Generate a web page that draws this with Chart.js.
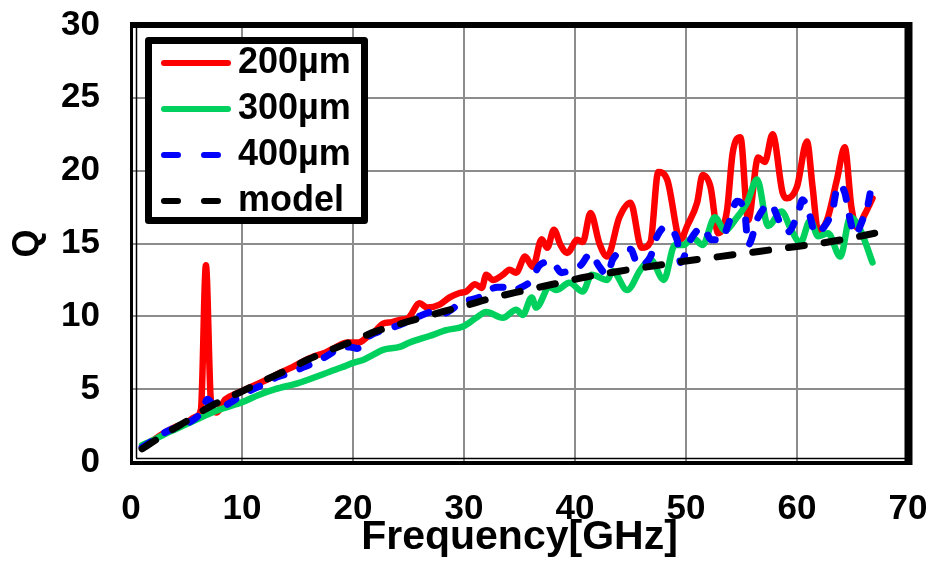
<!DOCTYPE html>
<html>
<head>
<meta charset="utf-8">
<script src="https://cdn.jsdelivr.net/npm/chart.js@4/dist/chart.umd.min.js"></script>
<style>
  html, body { margin: 0; padding: 0; background: #fff; }
  #qChart { display: block; }
</style>
</head>
<body>
<canvas id="qChart" width="935" height="563"></canvas>
<script>
// 200um
const freq200 = [
  1, 2, 3, 4, 5, 5.8, 6.3, 6.75, 7.2, 7.7,
  8.5, 9.5, 10.5, 11.5, 12.5, 13.5, 14.5, 15.5, 16.5, 17.5,
  18.5, 19.5, 20.5, 21.3, 22, 22.7, 23.5, 24.2, 25, 26,
  26.7, 27.8, 28.7, 29.6, 30.2, 31, 31.6, 32, 32.6, 33.5,
  34.1, 34.7, 35.5, 36.2, 37, 37.5, 38.1, 38.7, 39.3, 40.2,
  40.7, 41.4, 42.2, 42.9, 44, 45, 46, 46.8, 47.5, 48.3,
  49.5, 50.1, 51, 51.5, 52.2, 52.9, 53.7, 54.2, 54.9, 55.6,
  56.5, 57.1, 57.8, 58.7, 59.1, 60, 60.9, 61.4, 61.9, 62.7,
  63.6, 64.3, 64.9, 65.4, 66.1, 66.8
];
const q200 = [
  1.0, 1.5, 2.0, 2.4, 2.7, 3.1, 3.6, 13.5, 4.2, 3.4,
  4.3, 4.7, 5.05, 5.4, 5.75, 6.15, 6.5, 6.9, 7.25, 7.5,
  7.9, 8.2, 8.2, 8.6, 9.0, 9.5, 9.6, 9.75, 9.9, 10.9,
  10.6, 10.8, 11.3, 11.6, 11.7, 12.2, 11.95, 12.85, 12.5, 12.85,
  13.2, 13.0, 14.1, 13.4, 15.3, 14.7, 15.95, 14.9, 14.35, 15.25,
  15.1, 17.1, 15.0, 14.1, 16.8, 17.8, 14.7, 15.1, 19.9, 19.4,
  15.25, 16.2, 17.8, 19.7, 18.9, 15.7, 17.3, 21.2, 22.3, 16.6,
  20.9, 20.6, 22.5, 18.5, 18.1, 18.9, 22.0, 18.9, 15.9, 16.6,
  19.4, 21.6, 17.5, 16.1, 17.0, 18.1
];

// 300um
const freq300 = [
  1, 2, 3, 4, 5, 6, 7, 8, 9, 10,
  11.5, 13, 15, 16.5, 17.9, 19, 20, 20.9, 21.8, 22.7,
  24.2, 25.1, 26.9, 28.4, 29.9, 31.1, 32, 33.5, 34.7, 35.3,
  36.1, 36.5, 37.7, 38.3, 39.5, 40.7, 41.5, 42.9, 43.4, 44.7,
  45.9, 46.8, 48, 49, 49.8, 50.6, 51.5, 52.6, 53.5, 54.6,
  55.5, 56.4, 57.4, 58.6, 59.5, 60.3, 61.2, 61.9, 62.8, 63.9,
  64.8, 65.7, 66.8
];
const q300 = [
  1.15, 1.5, 1.9, 2.25, 2.6, 2.95, 3.3, 3.6, 3.85, 4.1,
  4.6, 5.0, 5.4, 5.8, 6.2, 6.5, 6.8, 7.0, 7.35, 7.7,
  7.9, 8.2, 8.65, 9.05, 9.3, 9.9, 10.3, 9.9, 10.45, 10.1,
  11.3, 10.6, 12.0, 11.8, 12.3, 11.7, 12.85, 12.5, 13.1, 11.8,
  13.2, 13.9, 12.5, 14.9, 14.9, 15.4, 14.9, 16.8, 15.9, 16.8,
  17.8, 19.4, 16.2, 17.2, 15.9, 15.05, 16.6, 15.5, 15.7, 14.1,
  16.8, 15.95, 13.7
];

// 400um
const freq400 = [
  1, 2, 3, 4, 5, 5.8, 6.4, 6.9, 7.4, 7.9,
  9, 10, 11, 12, 13.2, 14.3, 15.5, 16.8, 17.9, 19,
  19.7, 20.4, 20.9, 21.4, 22.7, 24.2, 25.8, 27.2, 28.1, 29.9,
  31.2, 33, 34.1, 34.4, 35.2, 36.1, 36.8, 37.9, 38.8, 39.6,
  40.5, 41.4, 42.2, 42.9, 43.4, 45, 45.7, 46.8, 47.4, 48.1,
  49.2, 49.5, 50.4, 51.5, 52.3, 53.2, 53.8, 54.6, 55.3, 55.6,
  56.5, 57.6, 58.5, 59.2, 60.1, 60.5, 61.2, 61.6, 62.5, 63.2,
  63.7, 64.3, 64.8, 65.2, 65.9, 66.4, 66.8
];
const q400 = [
  1.0, 1.5, 2.0, 2.35, 2.65, 3.0, 3.5, 4.3, 3.9, 3.7,
  4.1, 4.6, 5.0, 5.35, 5.85, 6.1, 6.5, 6.9, 7.4, 7.9,
  7.9, 7.8, 8.2, 8.6, 9.05, 9.4, 9.95, 10.3, 10.2, 11.0,
  11.25, 12.0, 12.0, 11.8, 12.0, 12.5, 13.5, 13.75, 13.0, 13.2,
  13.5, 14.3, 13.4, 12.85, 13.9, 14.6, 13.5, 14.1, 15.5, 16.1,
  15.25, 13.7, 15.25, 16.1, 15.25, 15.25, 16.3, 17.9, 17.1, 14.9,
  16.8, 17.7, 16.4, 15.8, 17.1, 18.0, 16.8, 15.7, 16.2, 17.3,
  19.0, 18.5, 16.6, 15.6, 16.6, 17.7, 19.4
];

// model
const freqModel = [
  1, 2, 3, 4, 5, 6, 7, 8, 9, 10,
  12, 14, 16, 18, 20, 22, 25, 28, 30, 32,
  35, 38, 41, 44, 47, 50, 53, 56, 59, 62,
  65, 67
];
const qModel = [
  0.9, 1.4, 1.9, 2.35, 2.8, 3.3, 3.75, 4.15, 4.5, 4.85,
  5.6, 6.3, 7.05, 7.7, 8.3, 8.95, 9.65, 10.3, 10.7, 11.15,
  11.7, 12.2, 12.7, 13.1, 13.45, 13.8, 14.1, 14.4, 14.7, 15.0,
  15.4, 15.7
];

const seriesLabels = ['200µm', '300µm', '400µm', 'model'];
const xTitle = 'Frequency[GHz]';
const yTitle = 'Q';

const FONT = '"Liberation Sans", Arial, sans-serif';

function toPoints(xs, ys) {
  return xs.map((x, i) => ({ x: x, y: ys[i] }));
}

// 프레임 + 범례 직접 그리기
const framePlugin = {
  id: 'frame',
  afterDatasetsDraw(chart) {
    const ctx = chart.ctx;
    const a = chart.chartArea;
    ctx.save();
    ctx.strokeStyle = '#000';
    ctx.lineCap = 'butt';
    // left double line
    ctx.lineWidth = 3;
    ctx.beginPath(); ctx.moveTo(a.left + 0.5, a.top - 3); ctx.lineTo(a.left + 0.5, a.bottom + 3); ctx.stroke();
    ctx.lineWidth = 1.5;
    ctx.beginPath(); ctx.moveTo(a.left + 5.5, a.top); ctx.lineTo(a.left + 5.5, a.bottom - 4); ctx.stroke();
    // bottom double line
    ctx.lineWidth = 4;
    ctx.beginPath(); ctx.moveTo(a.left - 1, a.bottom + 1); ctx.lineTo(a.right + 4, a.bottom + 1); ctx.stroke();
    ctx.lineWidth = 1.5;
    ctx.beginPath(); ctx.moveTo(a.left + 5, a.bottom - 3.5); ctx.lineTo(a.right, a.bottom - 3.5); ctx.stroke();
    // top + right thick
    ctx.lineWidth = 6;
    ctx.beginPath(); ctx.moveTo(a.left - 1, a.top); ctx.lineTo(a.right + 4, a.top); ctx.stroke();
    ctx.lineWidth = 8;
    ctx.beginPath(); ctx.moveTo(a.right + 0.5, a.top - 3); ctx.lineTo(a.right + 0.5, a.bottom + 3); ctx.stroke();
    ctx.restore();
  },
  afterDraw(chart) {
    const ctx = chart.ctx;
    const box = { x: 148.5, y: 40.5, w: 216, h: 180 };
    ctx.save();
    ctx.fillStyle = '#fff';
    ctx.fillRect(box.x, box.y, box.w, box.h);
    ctx.strokeStyle = '#000';
    ctx.lineWidth = 7;
    ctx.lineJoin = 'round';
    ctx.strokeRect(box.x, box.y, box.w, box.h);

    const rows = [63, 109, 155, 201];
    const legendDash = [null, null, [14, 26], [14, 26]];
    chart.data.datasets.forEach((ds, i) => {
      const y = rows[i];
      ctx.strokeStyle = ds.borderColor;
      ctx.lineWidth = 6;
      ctx.lineCap = 'round';
      ctx.setLineDash(legendDash[i] || []);
      ctx.beginPath();
      ctx.moveTo(164, y);
      ctx.lineTo(228, y);
      ctx.stroke();
      ctx.setLineDash([]);
      ctx.fillStyle = '#000';
      ctx.font = 'bold 36px ' + FONT;
      ctx.textAlign = 'left';
      ctx.textBaseline = 'middle';
      ctx.fillText(ds.label, 238, y);
    });
    ctx.restore();
  }
};

new Chart(document.getElementById('qChart'), {
  type: 'line',
  data: {
    datasets: [
      {
        label: seriesLabels[0],
        data: toPoints(freq200, q200),
        borderColor: '#ff0000',
        borderWidth: 6.5,
        order: 3
      },
      {
        label: seriesLabels[1],
        data: toPoints(freq300, q300),
        borderColor: '#00d05e',
        borderWidth: 6.5,
        order: 2
      },
      {
        label: seriesLabels[2],
        data: toPoints(freq400, q400),
        borderColor: '#0000ff',
        borderWidth: 7,
        borderDash: [10, 17],
        order: 1
      },
      {
        label: seriesLabels[3],
        data: toPoints(freqModel, qModel),
        borderColor: '#000000',
        borderWidth: 7,
        borderDash: [16, 20],
        order: 0
      }
    ]
  },
  options: {
    responsive: false,
    animation: false,
    devicePixelRatio: 1,
    layout: { padding: { top: 25, right: 27, left: 0, bottom: 0 } },
    elements: {
      point: { radius: 0 },
      line: { tension: 0.25, borderCapStyle: 'round', borderJoinStyle: 'round', cubicInterpolationMode: 'monotone' }
    },
    plugins: {
      legend: { display: false },
      tooltip: { enabled: false }
    },
    scales: {
      x: {
        type: 'linear',
        min: 0,
        max: 70,
        afterFit(scale) {
          scale.height = 101;
          scale.paddingLeft = 0;
          scale.paddingRight = 0;
        },
        ticks: {
          stepSize: 10,
          padding: 26,
          color: '#000',
          font: { family: FONT, size: 35, weight: 'bold' }
        },
        grid: { color: '#8c8c8c', lineWidth: 2, drawTicks: false },
        border: { display: false },
        title: {
          display: true,
          text: xTitle,
          color: '#000',
          padding: { top: 1, bottom: 1 },
          font: { family: FONT, size: 41, weight: 'bold' }
        }
      },
      y: {
        min: 0,
        max: 30,
        afterFit(scale) {
          scale.width = 131;
          scale.paddingTop = 0;
          scale.paddingBottom = 0;
        },
        ticks: {
          stepSize: 5,
          padding: 31,
          color: '#000',
          font: { family: FONT, size: 35, weight: 'bold' }
        },
        grid: { color: '#8c8c8c', lineWidth: 2, drawTicks: false },
        border: { display: false },
        title: {
          display: true,
          text: yTitle,
          color: '#000',
          padding: { top: 6, bottom: 0 },
          font: { family: FONT, size: 36, weight: 'bold' }
        }
      }
    }
  },
  plugins: [framePlugin]
});
</script>
</body>
</html>
